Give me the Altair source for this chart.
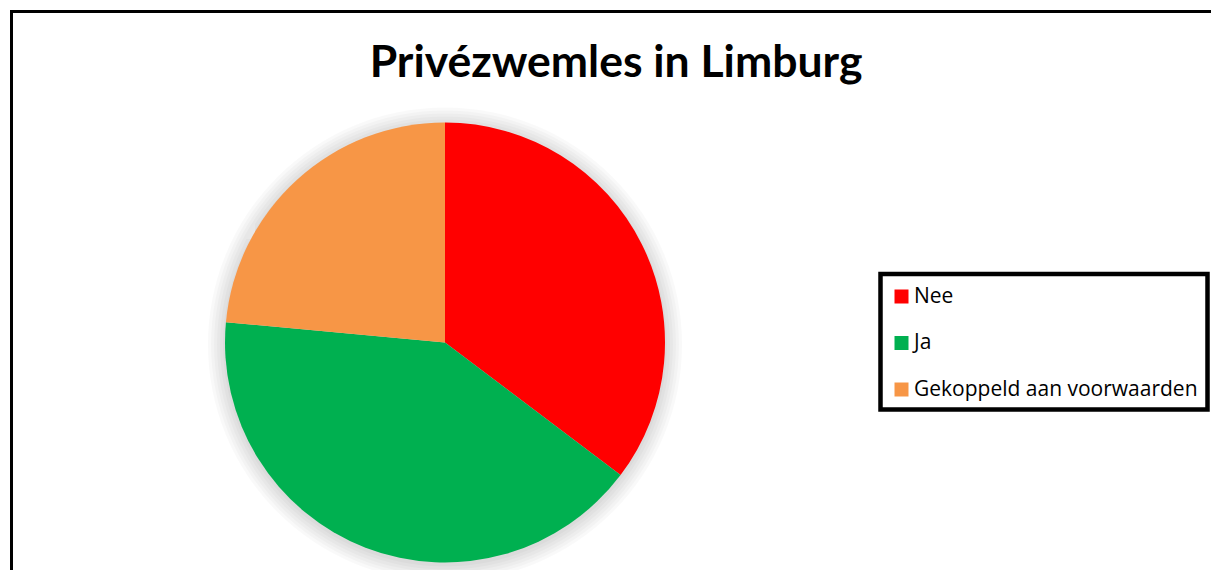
import altair as alt
import pandas as pd

# Data
categories = ["Nee", "Ja", "Gekoppeld aan voorwaarden"]
values = [6, 7, 4]
slice_order = [0, 1, 2]
colors = ["#FF0000", "#00B050", "#F79646"]
title_text = "Privézwemles in Limburg"

df = pd.DataFrame({"antwoord": categories, "aantal": values, "volgorde": slice_order})
one = pd.DataFrame({"k": [0]})

W, H = 1203, 562
CX, CY, R = 437, 332.5, 220

# soft shadow under the pie
shadow_layers = []
for i, r in enumerate([222, 225, 228, 231, 234, 237]):
    shadow_layers.append(
        alt.Chart(df).mark_arc(radius=r, color="black", opacity=0.022)
        .encode(theta=alt.Theta("sum(aantal):Q"), x=alt.value(CX), y=alt.value(CY + 2))
    )

pie = alt.Chart(df).mark_arc(radius=R, stroke=None).encode(
    theta=alt.Theta("aantal:Q", stack=True),
    order=alt.Order("volgorde:Q"),
    color=alt.Color(
        "antwoord:N",
        sort=categories,
        scale=alt.Scale(domain=categories, range=colors),
        legend=alt.Legend(
            title=None,
            orient="none",
            legendX=883,
            legendY=276,
            padding=0,
            symbolType="square",
            symbolSize=196,
            symbolStrokeWidth=0,
            labelFont="Open Sans",
            labelFontSize=21,
            labelColor="black",
            labelOffset=2,
            rowPadding=24.5,
            labelLimit=400,
        ),
    ),
    x=alt.value(CX),
    y=alt.value(CY),
)

title = alt.Chart(one).mark_text(
    text=title_text, font="Lato", fontSize=44.5, fontWeight="bold",
    color="black", align="center", baseline="alphabetic",
).encode(x=alt.value(608), y=alt.value(67))

legend_box = alt.Chart(one).mark_rect(
    fillOpacity=0, stroke="black", strokeWidth=4.5
).encode(x=alt.value(872.5), x2=alt.value(1199.5), y=alt.value(264), y2=alt.value(399.5))

border_left = alt.Chart(one).mark_rule(color="black", strokeWidth=3).encode(
    x=alt.value(3.5), y=alt.value(0), y2=alt.value(H)
)
border_top = alt.Chart(one).mark_rule(color="black", strokeWidth=3).encode(
    x=alt.value(2), x2=alt.value(W), y=alt.value(1.5)
)

chart = alt.layer(
    *shadow_layers, pie, title, legend_box, border_left, border_top
).properties(
    width=W, height=H,
    autosize=alt.AutoSizeParams(type="fit", contains="padding"),
    padding=0,
).configure_view(stroke=None)

chart.save("out.html", embed_options={"renderer": "svg", "actions": False})
